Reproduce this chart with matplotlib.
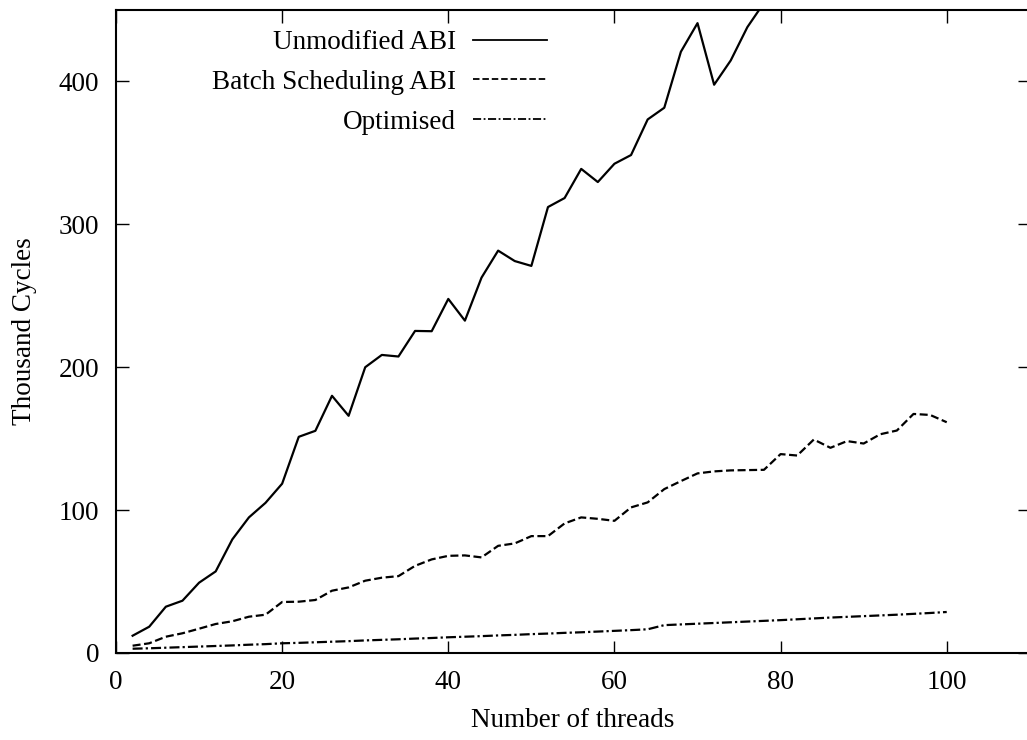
import matplotlib
matplotlib.use("Agg")
import matplotlib.pyplot as plt

plt.rcParams['font.family'] = ['Liberation Serif', 'DejaVu Serif']
plt.rcParams['font.size'] = 19.5

threads = list(range(2, 101, 2))

unmodified_x = list(range(2, 79, 2))
unmodified = [12.1, 18.4, 32.4, 36.6, 49.2, 57.1, 79.5, 94.9, 105.1, 118.5,
              151.3, 155.5, 180.0, 166.0, 200.0, 208.6, 207.5, 225.4, 225.2, 247.8,
              232.6, 262.7, 281.6, 274.3, 270.9, 312.1, 318.4, 338.8, 329.6, 342.4,
              348.5, 373.4, 381.6, 420.8, 440.8, 397.7, 414.7, 438.0, 455.0]

batch = [5.1, 6.8, 11.4, 13.8, 17.0, 20.3, 22.2, 25.4, 26.8, 35.7,
         35.9, 37.1, 43.6, 45.9, 50.6, 52.7, 53.8, 61.0, 65.5, 68.0,
         68.3, 66.9, 75.0, 76.7, 81.8, 81.8, 90.7, 94.9, 93.9, 92.5,
         101.9, 105.4, 114.7, 120.3, 125.7, 127.1, 127.8, 128.0, 128.2, 139.2,
         138.2, 149.4, 143.6, 148.3, 146.6, 153.1, 155.7, 167.3, 166.6, 161.5]

optimised = [3.0, 3.3, 3.7, 4.1, 4.5, 4.9, 5.3, 5.8, 6.2, 6.8,
             7.1, 7.5, 7.9, 8.3, 8.8, 9.2, 9.6, 10.1, 10.5, 11.0,
             11.4, 11.8, 12.3, 12.7, 13.2, 13.6, 14.1, 14.5, 15.0, 15.5,
             16.0, 16.6, 19.5, 20.0, 20.5, 21.0, 21.5, 22.0, 22.5, 23.0,
             23.6, 24.2, 24.8, 25.3, 25.8, 26.3, 26.8, 27.4, 28.0, 28.7]

labels = ["Unmodified ABI", "Batch Scheduling ABI", "Optimised"]
x_ticks = [0, 20, 40, 60, 80, 100]
y_ticks = [0, 100, 200, 300, 400]

W, H = 1027, 740
fig = plt.figure(figsize=(W / 100, H / 100), dpi=100)
left, right, top, bottom = 116, 1029.8, 10, 653
ax = fig.add_axes([left / W, 1 - bottom / H, (right - left) / W, (bottom - top) / H])

ax.plot(unmodified_x, unmodified, color='black', lw=1.6, label=labels[0])
ax.plot(threads, batch, color='black', lw=1.6, dashes=(3.6, 1.6), label=labels[1])
ax.plot(threads, optimised, color='black', lw=1.6, dashes=(4.5, 1.4, 1.0, 1.4), label=labels[2])

ax.set_xlim(0, 110)
ax.set_ylim(0, 450)
ax.set_xticks(x_ticks)
ax.set_yticks(y_ticks)
ax.tick_params(direction='in', length=9, width=1, top=True, right=True)
ax.tick_params(axis='x', pad=12.5)
ax.tick_params(axis='y', pad=12)
for s in ax.spines.values():
    s.set_linewidth(1.5)

ax.set_xlabel("Number of threads")
ax.set_ylabel("Thousand Cycles")
ax.xaxis.set_label_coords(0.5, -0.086)
ax.yaxis.set_label_coords(-0.0865, 0.5)

leg = ax.legend(loc='upper right', bbox_to_anchor=(547 / W, 1 - 30 / H),
                bbox_transform=fig.transFigure, frameon=False, markerfirst=False,
                handlelength=2.75, handletextpad=0.62, labelspacing=0.55, borderpad=0,
                borderaxespad=0)
for h in leg.get_lines():
    h.set_linewidth(1.3)

fig.savefig("out.png", dpi=100)
